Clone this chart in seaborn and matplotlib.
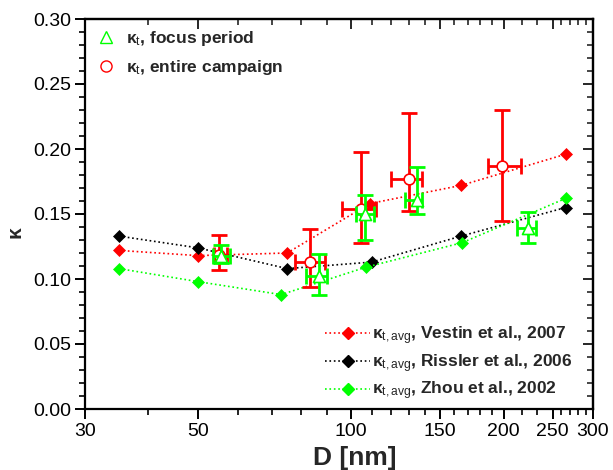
import numpy as np
import pandas as pd
import matplotlib
matplotlib.use("Agg")
import matplotlib.pyplot as plt
import seaborn as sns
from matplotlib.lines import Line2D
from matplotlib.ticker import NullFormatter, FixedLocator

# ---------------- data ----------------
vestin_D = [35, 50, 75, 109, 165, 265]
vestin_k = [0.122, 0.118, 0.120, 0.158, 0.172, 0.196]
rissler_D = [35, 50, 75, 110, 165, 265]
rissler_k = [0.133, 0.124, 0.108, 0.113, 0.133, 0.155]
zhou_D = [35, 50, 73, 107, 166, 265]
zhou_k = [0.108, 0.098, 0.088, 0.109, 0.128, 0.162]

camp_D = [55, 83, 105, 130.5, 199]
camp_k = [0.1185, 0.113, 0.154, 0.177, 0.187]
camp_klo = [0.107, 0.094, 0.128, 0.152, 0.145]
camp_khi = [0.134, 0.1385, 0.198, 0.228, 0.230]
camp_Dlo = [53.8, 77.8, 96.3, 120, 186]
camp_Dhi = [57.1, 89, 112, 138.5, 216]

focus_D = [55.5, 86.6, 106.7, 135, 223.5]
focus_k = [0.118, 0.102, 0.150, 0.161, 0.139]
focus_klo = [0.112, 0.088, 0.130, 0.150, 0.128]
focus_khi = [0.126, 0.119, 0.165, 0.186, 0.1515]
focus_Dlo = [53.5, 81.6, 102.5, 128, 213]
focus_Dhi = [58, 90, 111, 138.5, 232]

x_major = [30, 50, 100, 150, 200, 250, 300]
x_major_labels = ["30", "50", "100", "150", "200", "250", "300"]
x_minor = [40, 60, 70, 80, 90, 110, 120, 130, 140, 160, 170, 180, 190,
           217, 233, 260, 270, 280, 290]
y_major = [0.00, 0.05, 0.10, 0.15, 0.20, 0.25, 0.30]

ref_labels = [r"κ$_\mathrm{t,avg}$, Vestin et al., 2007",
              r"κ$_\mathrm{t,avg}$, Rissler et al., 2006",
              r"κ$_\mathrm{t,avg}$, Zhou et al., 2002"]
pt_labels = [r"κ$_\mathrm{t}$, focus period", r"κ$_\mathrm{t}$, entire campaign"]

RED = "#ff0000"
GREEN = "#00ff00"
BLACK = "#000000"

# ---------------- style ----------------
sns.set_theme(style="ticks")
plt.rcParams["font.family"] = ["Liberation Sans", "DejaVu Sans"]
plt.rcParams["mathtext.fontset"] = "custom"
plt.rcParams["mathtext.rm"] = "Liberation Sans"
plt.rcParams["mathtext.bf"] = "Liberation Sans:bold"
plt.rcParams["mathtext.it"] = "Liberation Sans:italic"

fig = plt.figure(figsize=(6.13, 4.70), dpi=100)
ax = fig.add_axes([85 / 613, 1 - 409 / 470, 508 / 613, 390 / 470])
ax.set_xscale("log")

# reference lines
for D, k, c in [(vestin_D, vestin_k, RED), (rissler_D, rissler_k, BLACK), (zhou_D, zhou_k, GREEN)]:
    df = pd.DataFrame({"D": D, "k": k})
    sns.lineplot(data=df, x="D", y="k", ax=ax, color=c, marker="D", linestyle=":",
                 linewidth=1.2, markersize=6.5, markeredgecolor=c, markeredgewidth=0.5,
                 legend=False, zorder=2)

# entire campaign (red circles)
cD = np.array(camp_D); ck = np.array(camp_k)
ax.errorbar(cD, ck, xerr=[cD - np.array(camp_Dlo), np.array(camp_Dhi) - cD],
            yerr=[ck - np.array(camp_klo), np.array(camp_khi) - ck],
            fmt="none", ecolor=RED, elinewidth=2, capsize=5.5, capthick=2, zorder=3)
sns.scatterplot(x=camp_D, y=camp_k, ax=ax, marker="o", s=60, facecolor="white",
                edgecolor=RED, linewidth=1.2, zorder=4, legend=False)

# focus period (green triangles)
fD = np.array(focus_D); fk = np.array(focus_k)
ax.errorbar(fD, fk, xerr=[fD - np.array(focus_Dlo), np.array(focus_Dhi) - fD],
            yerr=[fk - np.array(focus_klo), np.array(focus_khi) - fk],
            fmt="none", ecolor=GREEN, elinewidth=2, capsize=5.5, capthick=2, zorder=5)
sns.scatterplot(x=focus_D, y=focus_k, ax=ax, marker="^", s=75, facecolor="white",
                edgecolor=GREEN, linewidth=1.2, zorder=6, legend=False)

# ---------------- axes ----------------
ax.set_xlim(30, 300)
ax.set_ylim(0, 0.30)
ax.xaxis.set_major_locator(FixedLocator(x_major))
ax.set_xticklabels(x_major_labels)
ax.xaxis.set_minor_locator(FixedLocator(x_minor))
ax.xaxis.set_minor_formatter(NullFormatter())
ax.set_yticks(y_major)
ax.set_yticklabels([f"{v:.2f}" for v in y_major])
ax.yaxis.set_minor_locator(FixedLocator(np.arange(0, 0.301, 0.01)))

for s in ax.spines.values():
    s.set_linewidth(1.6)
    s.set_color("black")
    s.set_visible(True)

ax.tick_params(which="major", direction="out", length=7, width=1.4, labelsize=14,
               colors="black", pad=3)
ax.tick_params(which="minor", direction="out", length=4, width=1.2, colors="black")

secx = ax.secondary_xaxis("top")
secx.xaxis.set_major_locator(FixedLocator(x_major))
secx.xaxis.set_minor_locator(FixedLocator(x_minor))
secx.tick_params(which="major", direction="in", length=7, width=1.4, labeltop=False)
secx.tick_params(which="minor", direction="in", length=4, width=1.2, labeltop=False)
secx.xaxis.set_minor_formatter(NullFormatter())
secx.spines["top"].set_linewidth(1.6)

secy = ax.secondary_yaxis("right")
secy.set_yticks(y_major)
secy.yaxis.set_minor_locator(FixedLocator(np.arange(0, 0.301, 0.01)))
secy.tick_params(which="major", direction="in", length=7, width=1.4, labelright=False)
secy.tick_params(which="minor", direction="in", length=4, width=1.2, labelright=False)
secy.spines["right"].set_linewidth(1.6)

ax.set_xlabel("D [nm]", fontsize=19, fontweight="bold", labelpad=2)
ax.xaxis.set_label_coords((355 - 85) / 508, -0.095)
ax.set_ylabel("κ", fontsize=15, fontweight="bold", labelpad=2)
ax.yaxis.set_label_coords((24 - 85) / 508, (409 - 232) / 390)

# ---------------- legends ----------------
h1 = [Line2D([], [], linestyle="none", marker="^", markersize=9, markerfacecolor="white",
             markeredgecolor=GREEN, markeredgewidth=1.0),
      Line2D([], [], linestyle="none", marker="o", markersize=8, markerfacecolor="white",
             markeredgecolor=RED, markeredgewidth=1.0)]
leg1 = ax.legend(h1, pt_labels, loc="upper left", bbox_to_anchor=(0.0, 1.0),
                 frameon=False, prop={"weight": "bold", "size": 12.5},
                 handlelength=1.2, handletextpad=0.55, labelspacing=0.55, borderaxespad=0.2)
ax.add_artist(leg1)

h2 = [Line2D([], [], color=c, linestyle=":", linewidth=1.2, marker="D", markersize=6.5,
             markeredgecolor=c) for c in (RED, BLACK, GREEN)]
leg2 = ax.legend(h2, ref_labels, loc="lower right", bbox_to_anchor=(0.98, -0.01),
                 frameon=False, prop={"weight": "bold", "size": 12.5},
                 handlelength=2.6, handletextpad=0.1, labelspacing=0.3, borderaxespad=0.2)

fig.savefig("out.png", dpi=100)
